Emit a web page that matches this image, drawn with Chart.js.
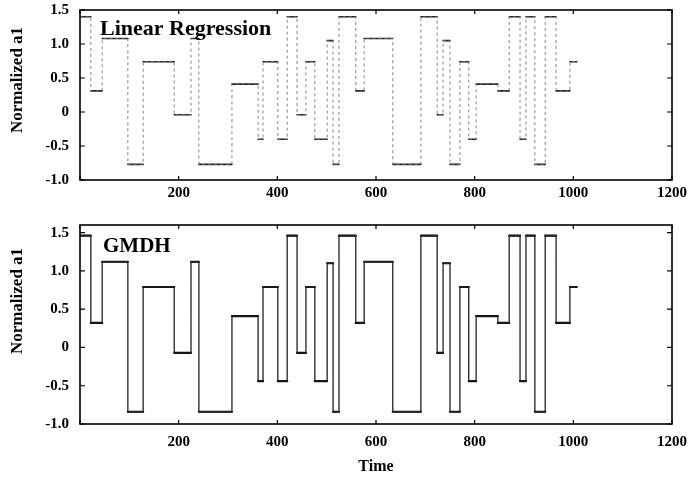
<!DOCTYPE html>
<html>
<head>
<meta charset="utf-8">
<script src="https://cdn.jsdelivr.net/npm/chart.js@4.4.1/dist/chart.umd.min.js"></script>
<style>
  body { margin: 0; background: #fff; }
  #wrap { position: relative; width: 691px; height: 477px; }
  canvas { position: absolute; left: 0; }
</style>
</head>
<body>
<div id="wrap">
  <canvas id="lrChart" width="691" height="212" style="top:0"></canvas>
  <canvas id="gmdhChart" width="691" height="265" style="top:212px"></canvas>
</div>
<script>
// switching times of the step signal (start of each level)
const segStart = [0, 22, 45, 97, 128, 191, 225, 241, 308, 361, 371, 401, 420, 440, 458, 476, 501, 513, 525, 559,
                  576, 634, 691, 724, 736, 750, 770, 788, 803, 847, 870, 892, 904, 922, 943, 965, 993];
const endTime = 1007;

// top panel: linear regression output levels
const lrValues = [1.40, 0.31, 1.08, -0.77, 0.74, -0.04, 1.08, -0.77, 0.41, -0.40, 0.74, -0.40, 1.40, -0.04, 0.74,
                  -0.40, 1.05, -0.77, 1.40, 0.31, 1.08, -0.77, 1.40, -0.04, 1.05, -0.77, 0.74, -0.40, 0.41, 0.31,
                  1.40, -0.40, 1.40, -0.77, 1.40, 0.31, 0.74];

// bottom panel: GMDH output levels
const gmdhValues = [1.46, 0.32, 1.12, -0.84, 0.79, -0.07, 1.12, -0.84, 0.41, -0.44, 0.79, -0.44, 1.46, -0.07, 0.79,
                    -0.44, 1.10, -0.84, 1.46, 0.32, 1.12, -0.84, 1.46, -0.07, 1.10, -0.84, 0.79, -0.44, 0.41, 0.32,
                    1.46, -0.44, 1.46, -0.84, 1.46, 0.32, 0.79];

const xTicks = [0, 200, 400, 600, 800, 1000, 1200];
const yTicks = [-1, -0.5, 0, 0.5, 1, 1.5];

const serif = '"Liberation Serif", "DejaVu Serif", serif';
Chart.defaults.font.family = serif;
Chart.defaults.font.weight = 'bold';
Chart.defaults.color = '#000';

function steppedPoints(values) {
    const pts = segStart.map((t, i) => ({ x: t, y: values[i] }));
    pts.push({ x: endTime, y: values[values.length - 1] });
    return pts;
}

function levelPoints(values) {
    const pts = [];
    segStart.forEach((t, i) => {
        const end = i + 1 < segStart.length ? segStart[i + 1] : endTime;
        pts.push({ x: t, y: values[i] }, { x: end, y: values[i] }, { x: end, y: null });
    });
    return pts;
}

// frame, inside tick marks, panel name and y label
const framePlugin = {
    id: 'frame',
    afterDraw(chart, args, opts) {
        const { ctx, chartArea: a, scales } = chart;
        ctx.save();
        ctx.strokeStyle = '#000';
        ctx.lineWidth = 1.6;
        ctx.strokeRect(a.left, a.top, a.right - a.left, a.bottom - a.top);
        ctx.lineWidth = 1.2;
        ctx.beginPath();
        yTicks.forEach(v => {
            const y = scales.y.getPixelForValue(v);
            ctx.moveTo(a.left, y); ctx.lineTo(a.left + 5, y);
            ctx.moveTo(a.right, y); ctx.lineTo(a.right - 5, y);
        });
        xTicks.forEach(v => {
            const x = scales.x.getPixelForValue(v);
            ctx.moveTo(x, a.bottom); ctx.lineTo(x, a.bottom - 4);
            ctx.moveTo(x, a.top); ctx.lineTo(x, a.top + 4);
        });
        ctx.stroke();

        ctx.fillStyle = '#000';
        ctx.font = 'bold ' + opts.nameSize + 'px ' + serif;
        ctx.textBaseline = 'alphabetic';
        ctx.textAlign = 'left';
        ctx.fillText(opts.name, a.left + opts.nameDx, a.top + opts.nameDy);

        ctx.translate(18, opts.labelY);
        ctx.rotate(-Math.PI / 2);
        ctx.font = 'bold 17px ' + serif;
        ctx.textAlign = 'center';
        ctx.textBaseline = 'middle';
        ctx.fillText('Normalized a1', 0, 0);
        ctx.restore();
    }
};

function makeChart(id, values, cfg) {
    return new Chart(document.getElementById(id), {
        type: 'line',
        data: {
            datasets: [{
                data: steppedPoints(values),
                stepped: true,
                borderColor: cfg.vColor,
                borderWidth: cfg.vWidth,
                borderDash: cfg.vDash,
                pointRadius: 0
            }, {
                data: levelPoints(values),
                borderColor: cfg.hColor,
                borderWidth: cfg.hWidth,
                borderCapStyle: 'round',
                spanGaps: false,
                pointRadius: 0
            }]
        },
        options: {
            responsive: false,
            animation: false,
            layout: { padding: { left: 0, right: 19, top: cfg.padTop, bottom: cfg.padBottom } },
            plugins: {
                legend: { display: false },
                tooltip: { enabled: false },
                frame: { name: cfg.name, nameSize: cfg.nameSize, nameDx: cfg.nameDx, nameDy: cfg.nameDy, labelY: cfg.labelY }
            },
            scales: {
                x: {
                    type: 'linear',
                    min: 0,
                    max: 1200,
                    grid: { display: false, drawTicks: false },
                    border: { display: false },
                    afterBuildTicks: s => { s.ticks = xTicks.map(v => ({ value: v })); },
                    afterFit: s => { s.height = cfg.xHeight; s.paddingLeft = 0; s.paddingRight = 0; },
                    ticks: {
                        padding: cfg.xPad,
                        maxRotation: 0,
                        autoSkip: false,
                        font: { size: 15, weight: 'bold' },
                        callback: v => (v === 0 ? '' : String(v))
                    },
                    title: {
                        display: cfg.showTime,
                        text: 'Time',
                        font: { size: 16, weight: 'bold' },
                        padding: { top: 0, bottom: 1 }
                    }
                },
                y: {
                    min: -1,
                    max: cfg.yMax,
                    grid: { display: false, drawTicks: false },
                    border: { display: false },
                    afterBuildTicks: s => { s.ticks = yTicks.map(v => ({ value: v })); },
                    afterFit: s => { s.width = 80; s.paddingTop = 0; s.paddingBottom = 0; },
                    ticks: { padding: 11, font: { size: 15, weight: 'bold' } }
                }
            }
        },
        plugins: [framePlugin]
    });
}

makeChart('lrChart', lrValues, {
    name: 'Linear Regression', nameSize: 22, nameDx: 20, nameDy: 25, labelY: 80,
    padTop: 10, padBottom: 6, xHeight: 26, xPad: 4, yMax: 1.5, showTime: false,
    vColor: '#777', vWidth: 0.9, vDash: [3, 3], hColor: '#222', hWidth: 1.6
});

makeChart('gmdhChart', gmdhValues, {
    name: 'GMDH', nameSize: 21, nameDx: 23, nameDy: 27, labelY: 89,
    padTop: 13, padBottom: 0, xHeight: 53, xPad: 9, yMax: 1.6, showTime: true,
    vColor: '#222', vWidth: 1.3, vDash: [], hColor: '#000', hWidth: 2.2
});
</script>
</body>
</html>
